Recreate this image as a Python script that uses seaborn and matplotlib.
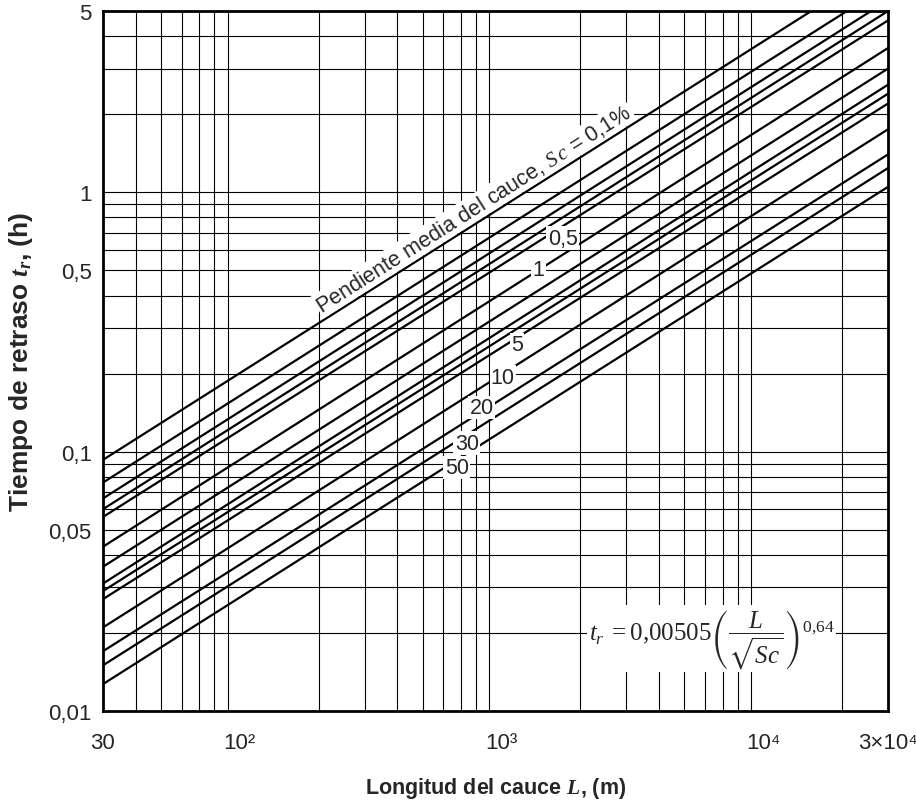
import matplotlib
matplotlib.use('Agg')
import matplotlib.pyplot as plt
import seaborn as sns
import pandas as pd

slopes = [0.1, 0.2, 0.3, 0.4, 0.5, 1, 2, 3, 4, 5, 10, 20, 30, 50]
t_at_30 = [0.093, 0.076, 0.066, 0.060, 0.056, 0.043, 0.036, 0.031, 0.029, 0.027,
           0.021, 0.017, 0.015, 0.0127]
t_at_30000 = [7.7, 6.3, 5.5, 5.0, 4.6, 3.6, 3.0, 2.6, 2.4, 2.2, 1.75, 1.4, 1.24, 1.05]
L_ends = [30, 30000]

# etiquetas sobre las rectas
curve_labels = ['0,5', '1', '5', '10', '20', '30', '50']
label_L = [1714, 1388, 1144, 1012, 841, 737, 675]
label_t = [0.665, 0.506, 0.258, 0.194, 0.148, 0.108, 0.087]

x_ticks = [30, 100, 1000, 10000, 30000]
x_ticklabels = ['30', '10²', '10³', '10⁴', '3×10⁴']
y_ticks = [0.01, 0.05, 0.1, 0.5, 1, 5]
y_ticklabels = ['0,01', '0,05', '0,1', '0,5', '1', '5']

# lineas de la reticula (el original no traza 10^2, 10^3, 10^4 en vertical)
x_grid = [40, 50, 60, 70, 80, 90,
          200, 300, 400, 500, 600, 700, 800, 900,
          2000, 3000, 4000, 5000, 6000, 7000, 8000, 9000,
          20000]
y_grid = [0.02, 0.03, 0.04, 0.05, 0.06, 0.07, 0.08, 0.09, 0.1,
          0.2, 0.3, 0.4, 0.5, 0.6, 0.7, 0.8, 0.9, 1, 2, 3, 4]

# -------------------------
# Tabla larga para seaborn
# -------------------------
rows = []
for s, t0, t1 in zip(slopes, t_at_30, t_at_30000):
    rows.append({'Sc': s, 'L': L_ends[0], 't': t0})
    rows.append({'Sc': s, 'L': L_ends[1], 't': t1})
df = pd.DataFrame(rows)

sns.set_style('white')
plt.rcParams['font.family'] = ['Liberation Sans', 'DejaVu Sans']
plt.rcParams['mathtext.fontset'] = 'custom'
plt.rcParams['mathtext.rm'] = 'Liberation Serif'
plt.rcParams['mathtext.it'] = 'Liberation Serif:italic'
plt.rcParams['mathtext.bf'] = 'Liberation Serif:italic:bold'
plt.rcParams['mathtext.fallback'] = 'stix'

fig = plt.figure(figsize=(9.16, 8.04), dpi=100)
ax = fig.add_axes([0.1124, 0.1144, 0.857, 0.8706])

for gx in x_grid:
    ax.axvline(gx, color='black', lw=0.8, zorder=1)
for gy in y_grid:
    ax.axhline(gy, color='black', lw=0.8, zorder=1)

sns.lineplot(data=df, x='L', y='t', units='Sc', estimator=None,
             color='black', lw=1.6, legend=False, ax=ax, zorder=3)

ax.set_xscale('log')
ax.set_yscale('log')
ax.set_xlim(30, 30000)
ax.set_ylim(0.01, 5)

ax.set_xticks(x_ticks)
ax.set_xticklabels(x_ticklabels, fontsize=16)
ax.set_xticks([], minor=True)
ax.set_yticks(y_ticks)
ax.set_yticklabels(y_ticklabels, fontsize=16)
ax.set_yticks([], minor=True)
ax.tick_params(axis='x', length=0, pad=15)
ax.tick_params(axis='y', length=0, pad=8)

for sp in ax.spines.values():
    sp.set_linewidth(2)
    sp.set_color('black')
    sp.set_zorder(5)

ax.set_xlabel('Longitud del cauce $\\mathbf{L}$, (m)',
              fontsize=15.5, fontweight='bold', labelpad=16)
ax.set_ylabel('Tiempo de retraso $\\mathbf{t_r}$, (h)', fontsize=19,
              fontweight='bold', labelpad=10)

white = dict(facecolor='white', edgecolor='none', pad=1)

for txt, lx, ly in zip(curve_labels, label_L, label_t):
    ax.text(lx, ly, txt, fontsize=15.5, ha='center', va='center',
            bbox=white, zorder=4)

ax.text(783, 0.868, 'Pendiente media del cauce, $\\mathit{S\\,c}$ = 0,1%',
        fontsize=15.5, rotation=32.4, rotation_mode='anchor',
        ha='center', va='center', bbox=white, zorder=4)

ax.text(0.7752, 0.103,
        '$t_r\\;=0{,}00505\\left(\\dfrac{L}{\\sqrt{Sc}}\\right)^{0{,}64}$',
        transform=ax.transAxes, fontsize=18, ha='center', va='center',
        bbox=dict(facecolor='white', edgecolor='none', pad=1.5), zorder=4)

plt.savefig('out.png', dpi=100)
